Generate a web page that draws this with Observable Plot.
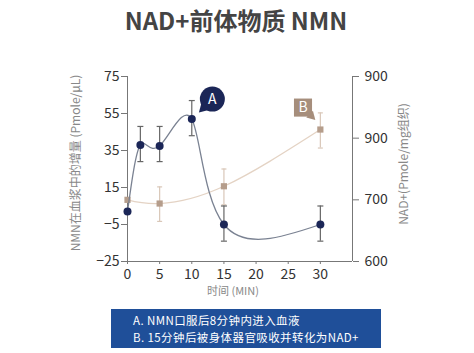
<!DOCTYPE html>
<html><head><meta charset="utf-8">
<script src="https://cdn.jsdelivr.net/npm/d3@7"></script>
<script src="https://cdn.jsdelivr.net/npm/@observablehq/plot@0.6"></script>
<style>
body{margin:0;background:#fff;font-family:"Noto Sans CJK SC","Noto Sans",sans-serif;}
#wrap{position:relative;width:474px;height:353px;overflow:hidden;background:#fff}
#chart{position:absolute;left:0;top:0}
#title{position:absolute;left:0;top:5px;width:472px;text-align:center;font-size:24px;line-height:30px;font-weight:bold;color:#444;}
#legend{position:absolute;left:111px;top:309px;width:270px;height:39px;background:#1f4f99;color:#fff;font-size:11.5px;letter-spacing:0.4px;line-height:17px;box-sizing:border-box;padding:3px 0 0 22px;white-space:nowrap}
</style></head><body>
<div id="wrap"><div id="chart"></div><div id="title"></div><div id="legend"></div></div>
<script>
const titleText = "NAD+前体物质 NMN";
const legendLines = ["A. NMN口服后8分钟内进入血液", "B. 15分钟后被身体器官吸收并转化为NAD+"];
const xLabel = "时间 (MIN)";
const leftLabel = "NMN在血浆中的增量 (Pmole/μL)";
const rightLabel = "NAD+(Pmole/mg组织)";

// NMN in plasma (left axis)
const nmnMinutes = [0, 2, 5, 10, 15, 30];
const nmnValues  = [2, 38, 37.5, 52, -5, -5];
const nmnErrLow  = [null, 29, 29, 43, -14, -14];
const nmnErrHigh = [null, 48, 48, 62, 5, 5];

// NAD+ in tissue (right axis)
const nadMinutes = [0, 5, 15, 30];
const nadValues  = [700, 694, 722, 814];
const nadErrLow  = [null, 665, 692, 784];
const nadErrHigh = [null, 721, 750, 841];

const xTicks = [0, 5, 10, 15, 20, 25, 30];
const leftTicks = [-25, -5, 15, 35, 55, 75];
const rightTicks = [600, 700, 800, 900];
const rightTickLabels = ["600", "700", "900", "900"];

const callouts = [
  {label: "A", minute: 13.2, value: 62.8},
  {label: "B", minute: 27.3, value: 58.2}
];

// right axis units -> left axis units
const toLeft = r => -25 + (r - 600) / 3;

const nmn = nmnMinutes.map((m, i) => ({m, v: nmnValues[i], lo: nmnErrLow[i], hi: nmnErrHigh[i]}));
const nad = nadMinutes.map((m, i) => ({m, v: toLeft(nadValues[i]),
  lo: nadErrLow[i] == null ? null : toLeft(nadErrLow[i]),
  hi: nadErrHigh[i] == null ? null : toLeft(nadErrHigh[i])}));
const nmnErr = nmn.filter(d => d.lo != null);
const nadErr = nad.filter(d => d.lo != null);

const capSymbol = {draw(ctx, size) { const w = Math.sqrt(size / Math.PI); ctx.moveTo(-w, 0); ctx.lineTo(w, 0); }};

const navy = "#1b2657";
const navyLine = "#7a8292";
const beige = "#b59d8b";
const beigeLine = "#e4d3c4";
const beigeErr = "#d9c7b8";
const font = "'Noto Sans CJK SC', 'Noto Sans', sans-serif";

const plot = Plot.plot({
  width: 474, height: 353,
  marginLeft: 127, marginRight: 122, marginTop: 76, marginBottom: 92,
  x: {domain: [0, 35]},
  y: {domain: [-25, 75]},
  style: {fontFamily: font, fontSize: "14px", color: "#333", background: "transparent"},
  marks: [
    Plot.ruleX([0], {y1: -25, y2: 75, stroke: "#777"}),
    Plot.ruleX([35], {y1: -25, y2: 75, stroke: "#777"}),
    Plot.ruleY([-25], {x1: 0, x2: 35, stroke: "#777"}),
    Plot.axisY({ticks: leftTicks, tickSize: 6, tickPadding: 2, label: null, stroke: "#777", fill: "#333", fontSize: 14}),
    Plot.axisY({anchor: "right", ticks: rightTicks.map(toLeft), tickSize: 6, tickPadding: 6, label: null,
      tickFormat: d => rightTickLabels[rightTicks.findIndex(t => Math.abs(toLeft(t) - d) < 1e-6)],
      stroke: "#777", fill: "#333", fontSize: 14}),
    Plot.axisX({ticks: xTicks, tickSize: 3, tickPadding: 5, label: null, stroke: "#777", fill: "#333", fontSize: 14}),
    Plot.text([xLabel], {frameAnchor: "bottom", textAnchor: "middle", lineAnchor: "middle", dx: -7, dy: 30, fill: "#888", fontSize: 11}),
    Plot.text([leftLabel], {frameAnchor: "left", textAnchor: "middle", lineAnchor: "middle", rotate: -90, dx: -51, dy: -6, fill: "#888", fontSize: 12}),
    Plot.text([rightLabel], {frameAnchor: "right", textAnchor: "middle", lineAnchor: "middle", rotate: -90, dx: 52, dy: -5, fill: "#888", fontSize: 12}),

    // NAD+ series
    Plot.line(nad, {x: "m", y: "v", curve: "natural", stroke: beigeLine, strokeWidth: 1.3}),
    Plot.ruleX(nadErr, {x: "m", y1: "lo", y2: "hi", stroke: beigeErr, strokeWidth: 1.2}),
    Plot.dot(nadErr, {x: "m", y: "lo", symbol: capSymbol, r: 2.5, stroke: beigeErr, strokeWidth: 1.2, fill: "none"}),
    Plot.dot(nadErr, {x: "m", y: "hi", symbol: capSymbol, r: 2.5, stroke: beigeErr, strokeWidth: 1.2, fill: "none"}),
    Plot.dot(nad, {x: "m", y: "v", symbol: "square", r: 3.5, fill: beige, stroke: "none"}),

    // NMN series
    Plot.line(nmn, {x: "m", y: "v", curve: "natural", stroke: navyLine, strokeWidth: 1.3}),
    Plot.ruleX(nmnErr, {x: "m", y1: "lo", y2: "hi", stroke: "#666", strokeWidth: 1.2}),
    Plot.dot(nmnErr, {x: "m", y: "lo", symbol: capSymbol, r: 3, stroke: "#666", strokeWidth: 1.2, fill: "none"}),
    Plot.dot(nmnErr, {x: "m", y: "hi", symbol: capSymbol, r: 3, stroke: "#666", strokeWidth: 1.2, fill: "none"}),
    Plot.dot(nmn, {x: "m", y: "v", r: 4, fill: navy, stroke: "none"}),

    // callouts
    Plot.dot(callouts.filter(d => d.label === "A"), {x: "minute", y: "value", symbol: "triangle", r: 4.5, rotate: 225, dx: -8.5, dy: 8.5, fill: navy, stroke: "none"}),
    Plot.dot(callouts.filter(d => d.label === "A"), {x: "minute", y: "value", r: 12.5, fill: navy, stroke: "none"}),
    Plot.dot(callouts.filter(d => d.label === "B"), {x: "minute", y: "value", symbol: "triangle", r: 3.5, rotate: 135, dx: 8.5, dy: 8.5, fill: "#a68e7c", stroke: "none"}),
    Plot.dot(callouts.filter(d => d.label === "B"), {x: "minute", y: "value", symbol: "square", r: 10.2, fill: "#a68e7c", stroke: "none"}),
    Plot.text(callouts, {x: "minute", y: "value", text: "label", fill: "#fff", fontSize: 14})
  ]
});
document.getElementById("chart").appendChild(plot);
document.getElementById("title").textContent = titleText;
const lg = document.getElementById("legend");
legendLines.forEach(t => { const d = document.createElement("div"); d.textContent = t; lg.appendChild(d); });
</script>
</body></html>
